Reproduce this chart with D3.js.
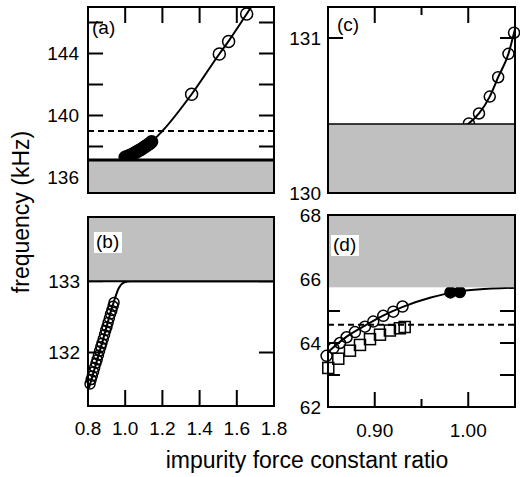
<!DOCTYPE html>
<html>
<head>
<meta charset="utf-8">
<script src="https://cdn.jsdelivr.net/npm/d3@7"></script>
<style>
  html, body { margin: 0; padding: 0; background: #fff; }
  svg { display: block; }
  text { font-family: "Liberation Sans", Arial, Helvetica, sans-serif; fill: #000; }
</style>
</head>
<body>
<svg id="chart" width="520" height="477"></svg>
<script>
// ---------------- data ----------------
// panel (a)
const aOpenX   = [1.357, 1.506, 1.556, 1.653];
const aOpenY   = [141.37, 143.97, 144.78, 146.55];
const aFillX   = [1.000, 1.012, 1.024, 1.036, 1.048, 1.060, 1.072, 1.084, 1.096, 1.108, 1.120, 1.132, 1.142];
const aFillY   = [137.30, 137.36, 137.42, 137.49, 137.56, 137.64, 137.72, 137.81, 137.90, 138.00, 138.10, 138.20, 138.30];
const aCurveX  = [0.980, 1.000, 1.060, 1.100, 1.142, 1.200, 1.357, 1.506, 1.556, 1.653, 1.710];
const aCurveY  = [137.13, 137.30, 137.64, 137.93, 138.30, 139.00, 141.37, 143.97, 144.80, 146.55, 147.60];
const aBand    = 137.13;   // top of gray band
const aDashed  = 139.0;

// panel (b)
const bOpenX   = [0.811, 0.817, 0.823, 0.830, 0.836, 0.843, 0.849, 0.856, 0.862, 0.869, 0.875,
                  0.882, 0.889, 0.895, 0.902, 0.908, 0.915, 0.921, 0.928, 0.935, 0.940];
const bOpenY   = [131.56, 131.62, 131.67, 131.73, 131.79, 131.85, 131.90, 131.96, 132.02, 132.08, 132.13,
                  132.19, 132.25, 132.31, 132.36, 132.42, 132.48, 132.54, 132.59, 132.65, 132.70];
const bCurveX  = [0.805, 0.870, 0.940, 0.965, 0.992, 1.030, 1.800];
const bCurveY  = [131.50, 132.08, 132.72, 132.90, 132.98, 133.00, 133.00];
const bBand    = 133.0;    // bottom of gray band

// panel (c)
const cOpenX   = [1.0007, 1.0115, 1.023, 1.032, 1.043, 1.049];
const cOpenY   = [130.449, 130.513, 130.622, 130.747, 130.898, 131.034];
const cCurveX  = [0.985, 1.0007, 1.0115, 1.023, 1.032, 1.043, 1.049, 1.056];
const cCurveY  = [130.40, 130.449, 130.513, 130.622, 130.747, 130.898, 131.034, 131.20];
const cBand    = 130.445;

// panel (d)
const dOpenX   = [0.8485, 0.8557, 0.8628, 0.8699, 0.8788, 0.8895, 0.8984, 0.9091, 0.9198, 0.9297];
const dOpenY   = [63.60, 63.84, 64.00, 64.18, 64.34, 64.51, 64.67, 64.85, 64.98, 65.14];
const dSqX     = [0.8503, 0.8610, 0.8735, 0.8842, 0.8949, 0.9056, 0.9162, 0.9269, 0.9320];
const dSqY     = [63.22, 63.51, 63.76, 63.94, 64.12, 64.26, 64.39, 64.46, 64.50];
const dFillX   = [0.981, 0.991];
const dFillY   = [65.58, 65.59];
const dCurveX  = [0.850, 0.870, 0.890, 0.910, 0.930, 0.960, 0.985, 1.010, 1.050];
const dCurveY  = [63.72, 64.20, 64.55, 64.87, 65.13, 65.42, 65.59, 65.67, 65.73];
const dBand    = 65.74;
const dDashed  = 64.57;

// ticks / labels
const abXTicks   = [1.0, 1.2, 1.4, 1.6];
const abXLabels  = ["0.8", "1.0", "1.2", "1.4", "1.6", "1.8"];
const abXLabelV  = [0.8, 1.0, 1.2, 1.4, 1.6, 1.8];
const aYTicks    = [136, 138, 140, 142, 144, 146];
const aYLabels   = [136, 140, 144];
const bYTicks    = [132, 133];
const bYLabels   = [132, 133];
const cdXMajor   = [0.90, 1.00];
const cdXMinor   = [0.95];
const cdXLabels  = ["0.90", "1.00"];
const cYTicks    = [130, 131];
const cYLabels   = [130, 131];
const dYTicks    = [62, 63, 64, 65, 66, 67, 68];
const dYLabels   = [62, 64, 66, 68];

const xTitle = "impurity force constant ratio";
const yTitle = "frequency (kHz)";

// ---------------- drawing ----------------
const svg = d3.select("#chart");
const GRAY = "#c0c0c0";
const zip = (xs, ys) => xs.map((x, i) => [x, ys[i]]);

function panel(id, box, xDom, yDom) {
  const x = d3.scaleLinear().domain(xDom).range([box.x0, box.x1]);
  const y = d3.scaleLinear().domain(yDom).range([box.y1, box.y0]);
  const g = svg.append("g");
  svg.append("defs").append("clipPath").attr("id", "clip-" + id)
    .append("rect").attr("x", box.x0).attr("y", box.y0)
    .attr("width", box.x1 - box.x0).attr("height", box.y1 - box.y0);
  return { x, y, g, box, clip: "url(#clip-" + id + ")" };
}

function curve(p, xs, ys, w) {
  const line = d3.line().x(d => p.x(d[0])).y(d => p.y(d[1])).curve(d3.curveMonotoneX);
  p.g.append("path").attr("d", line(zip(xs, ys)))
    .attr("fill", "none").attr("stroke", "#000").attr("stroke-width", w || 2)
    .attr("clip-path", p.clip);
}
function circles(p, xs, ys, r, filled) {
  p.g.append("g").selectAll("circle").data(zip(xs, ys)).join("circle")
    .attr("cx", d => p.x(d[0])).attr("cy", d => p.y(d[1])).attr("r", r)
    .attr("fill", filled ? "#000" : "none").attr("stroke", "#000").attr("stroke-width", 1.5);
}
function squares(p, xs, ys, s) {
  p.g.append("g").selectAll("rect").data(zip(xs, ys)).join("rect")
    .attr("x", d => p.x(d[0]) - s / 2).attr("y", d => p.y(d[1]) - s / 2)
    .attr("width", s).attr("height", s)
    .attr("fill", "none").attr("stroke", "#000").attr("stroke-width", 1.5);
}
function hline(p, v, opts) {
  p.g.append("line").attr("x1", p.box.x0).attr("x2", p.box.x1)
    .attr("y1", p.y(v)).attr("y2", p.y(v))
    .attr("stroke", "#000").attr("stroke-width", opts.w || 2)
    .attr("stroke-dasharray", opts.dash || null);
}
function band(p, from, to) {
  const y1 = p.y(from), y2 = p.y(to);
  p.g.append("rect").attr("x", p.box.x0).attr("width", p.box.x1 - p.box.x0)
    .attr("y", Math.min(y1, y2)).attr("height", Math.abs(y1 - y2)).attr("fill", GRAY);
}
function ticksX(p, vals, side, len) {
  p.g.append("g").selectAll("line").data(vals).join("line")
    .attr("x1", d => p.x(d)).attr("x2", d => p.x(d))
    .attr("y1", side === "top" ? p.box.y0 : p.box.y1)
    .attr("y2", side === "top" ? p.box.y0 + len : p.box.y1 - len)
    .attr("stroke", "#000").attr("stroke-width", 2);
}
function ticksY(p, vals, side, len) {
  p.g.append("g").selectAll("line").data(vals).join("line")
    .attr("y1", d => p.y(d)).attr("y2", d => p.y(d))
    .attr("x1", side === "left" ? p.box.x0 : p.box.x1)
    .attr("x2", side === "left" ? p.box.x0 + len : p.box.x1 - len)
    .attr("stroke", "#000").attr("stroke-width", 2);
}
function frame(p) {
  p.g.append("rect").attr("x", p.box.x0).attr("y", p.box.y0)
    .attr("width", p.box.x1 - p.box.x0).attr("height", p.box.y1 - p.box.y0)
    .attr("fill", "none").attr("stroke", "#000").attr("stroke-width", 2);
}
function yLabels(p, vals, gap) {
  p.g.append("g").selectAll("text").data(vals).join("text")
    .attr("x", p.box.x0 - gap).attr("y", d => p.y(d)).attr("dy", "0.36em")
    .attr("text-anchor", "end").attr("font-size", 19).text(d => d);
}
function tag(p, txt, dx, baseline, boxed) {
  if (boxed) {
    p.g.append("rect").attr("x", p.box.x0 + dx - 2).attr("y", baseline - 16)
      .attr("width", 28).attr("height", 21).attr("fill", "#fff");
  }
  p.g.append("text").attr("x", p.box.x0 + dx).attr("y", baseline)
    .attr("font-size", 19).text(txt);
}

// ---- panel (a)
const A = panel("a", {x0: 88, x1: 274, y0: 7, y1: 193}, [0.8, 1.8], [135, 147]);
ticksX(A, abXTicks, "top", 16);
ticksY(A, aYTicks, "left", 15);
ticksY(A, aYTicks, "right", 15);
hline(A, aDashed, {w: 2, dash: "6,4"});
curve(A, aCurveX, aCurveY, 2);
circles(A, aFillX, aFillY, 6, true);
circles(A, aOpenX, aOpenY, 6, false);
band(A, 135, aBand);
hline(A, aBand, {w: 3});
frame(A);
yLabels(A, aYLabels, 9);
tag(A, "(a)", 4, 34, false);

// ---- panel (b)
const B = panel("b", {x0: 88, x1: 274, y0: 217, y1: 406}, [0.8, 1.8], [131.25, 133.9]);
ticksX(B, abXTicks, "bottom", 16);
ticksY(B, bYTicks, "left", 15);
ticksY(B, bYTicks, "right", 15);
curve(B, bCurveX, bCurveY, 2);
circles(B, bOpenX, bOpenY, 5, false);
band(B, bBand, 133.9);
hline(B, bBand, {w: 2});
frame(B);
yLabels(B, bYLabels, 8);
tag(B, "(b)", 8, 248, true);

// ---- panel (c)
const C = panel("c", {x0: 328, x1: 515, y0: 7, y1: 193}, [0.85, 1.05], [130, 131.2]);
ticksX(C, cdXMajor, "top", 16);
ticksX(C, cdXMinor, "top", 8);
ticksY(C, [131], "left", 15);
ticksY(C, [131], "right", 15);
curve(C, cCurveX, cCurveY, 2);
circles(C, cOpenX, cOpenY, 5.5, false);
band(C, 130, cBand);
hline(C, cBand, {w: 1.5});
frame(C);
yLabels(C, cYLabels, 7);
tag(C, "(c)", 9, 31, false);

// ---- panel (d)
const D = panel("d", {x0: 328, x1: 515, y0: 215, y1: 407}, [0.85, 1.05], [62, 68]);
ticksX(D, cdXMajor, "bottom", 15);
ticksX(D, cdXMinor, "bottom", 8);
ticksY(D, dYTicks, "left", 12);
ticksY(D, dYTicks, "right", 15);
hline(D, dDashed, {w: 2, dash: "6,4"});
curve(D, dCurveX, dCurveY, 2);
squares(D, dSqX, dSqY, 11);
circles(D, dOpenX, dOpenY, 5.5, false);
circles(D, dFillX, dFillY, 5.5, true);
band(D, dBand, 68);
frame(D);
yLabels(D, dYLabels, 7);
tag(D, "(d)", 5, 251, true);

// ---- x tick labels
svg.append("g").selectAll("text").data(abXLabelV).join("text")
  .attr("x", d => A.x(d)).attr("y", 435).attr("text-anchor", "middle")
  .attr("font-size", 19).text((d, i) => abXLabels[i]);
svg.append("g").selectAll("text").data(cdXMajor).join("text")
  .attr("x", d => D.x(d)).attr("y", 437).attr("text-anchor", "middle")
  .attr("font-size", 19).text((d, i) => cdXLabels[i]);

// ---- axis titles
svg.append("text").attr("x", 307).attr("y", 468).attr("text-anchor", "middle")
  .attr("font-size", 23).text(xTitle);
svg.append("text").attr("transform", "translate(29,212) rotate(-90)")
  .attr("text-anchor", "middle").attr("font-size", 23).text(yTitle);
</script>
</body>
</html>
